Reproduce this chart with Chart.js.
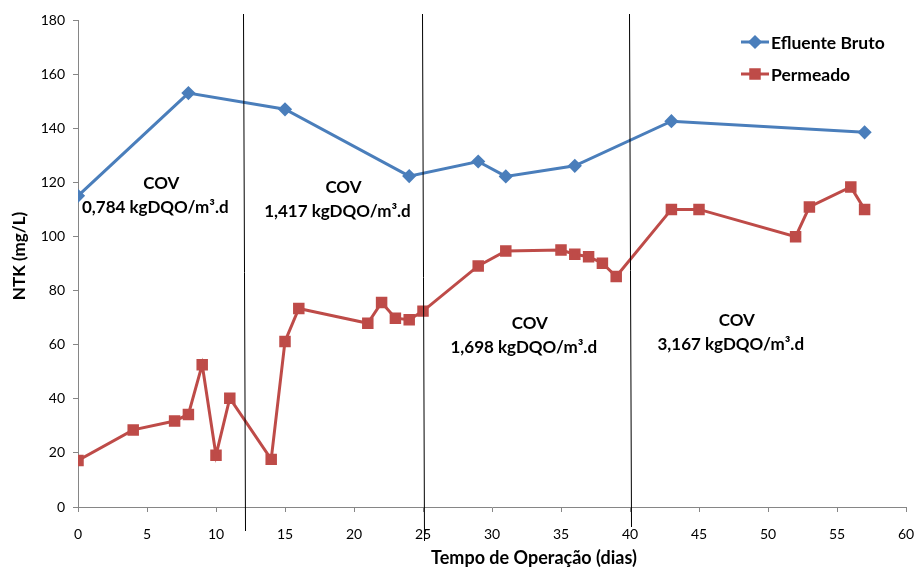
<!DOCTYPE html>
<html>
<head>
<meta charset="utf-8">
<script src="https://cdn.jsdelivr.net/npm/chart.js@4"></script>
<style>
  html, body { margin: 0; padding: 0; background: #fff; }
  #wrap { width: 915px; height: 569px; }
</style>
</head>
<body>
<div id="wrap"><canvas id="grafico"></canvas></div>
<script>
// Tempo de operação (dias) e NTK (mg/L)
const diasBruto = [0, 8, 15, 24, 29, 31, 36, 43, 57];
const ntkBruto = [115, 153, 147, 122.3, 127.7, 122.2, 126.1, 142.6, 138.5];

const diasPermeado = [0, 4, 7, 8, 9, 10, 11, 14, 15, 16, 21, 22, 23, 24, 25, 29, 31, 35, 36, 37, 38, 39, 43, 45, 52, 53, 56, 57];
const ntkPermeado = [17.2, 28.5, 31.8, 34.2, 52.6, 19.1, 40.2, 17.6, 61.2, 73.4, 67.9, 75.6, 69.8, 69.2, 72.4, 89.1, 94.6, 95, 93.4, 92.5, 90.1, 85.2, 110, 110, 99.9, 110.9, 118.3, 110];

// mudanças de carga orgânica volumétrica
const divisorias = [12, 25, 40];
const rotulosCOV = [
  { x: 5.6, y: 115, linhas: ['COV', '0,784 kgDQO/m³.d'] },
  { x: 18.8, y: 113.5, linhas: ['COV', '1,417 kgDQO/m³.d'] },
  { x: 32.3, y: 63.5, linhas: ['COV', '1,698 kgDQO/m³.d'] },
  { x: 47.3, y: 64.5, linhas: ['COV', '3,167 kgDQO/m³.d'] }
];

const fonte = 'Lato, "Open Sans", sans-serif';
const azul = '#4A7EBB';
const vermelho = '#BE4B48';

const pares = (xs, ys) => xs.map((x, i) => ({ x: x, y: ys[i] }));

// linhas verticais, textos de COV, títulos dos eixos e legenda
const extras = {
  id: 'extras',
  afterDatasetsDraw(chart) {
    const { ctx, chartArea, scales } = chart;
    ctx.save();
    ctx.strokeStyle = '#000';
    ctx.lineWidth = 1;
    divisorias.forEach((d, i) => {
      const px = Math.round(scales.x.getPixelForValue(d)) + 0.5;
      ctx.beginPath();
      ctx.moveTo(px - 1, chartArea.top - 6);
      ctx.lineTo(px + 1, chartArea.bottom + [24, 34, 20][i]);
      ctx.stroke();
    });
    ctx.fillStyle = '#000';
    ctx.font = 'bold 17px ' + fonte;
    ctx.textAlign = 'center';
    ctx.textBaseline = 'middle';
    rotulosCOV.forEach(r => {
      const px = scales.x.getPixelForValue(r.x);
      const py = scales.y.getPixelForValue(r.y);
      ctx.fillText(r.linhas[0], px + 6, py - 12);
      ctx.fillText(r.linhas[1], px, py + 12);
    });

    // títulos dos eixos
    ctx.font = 'bold 18px ' + fonte;
    ctx.fillText('Tempo de Operação (dias)', 534, 558);
    ctx.save();
    ctx.translate(20, 256);
    ctx.rotate(-Math.PI / 2);
    ctx.font = 'bold 17px ' + fonte;
    ctx.fillText('NTK (mg/L)', 0, 0);
    ctx.restore();

    // legenda
    const itens = [
      { texto: 'Efluente Bruto', cor: azul, forma: 'rectRot', r: 5 },
      { texto: 'Permeado', cor: vermelho, forma: 'rect', r: 6 }
    ];
    ctx.textAlign = 'left';
    ctx.font = 'bold 17.5px ' + fonte;
    itens.forEach((it, i) => {
      const y = 42 + i * 32;
      ctx.strokeStyle = it.cor;
      ctx.lineWidth = 3;
      ctx.beginPath();
      ctx.moveTo(741, y);
      ctx.lineTo(769, y);
      ctx.stroke();
      Chart.helpers.drawPoint(ctx, { pointStyle: it.forma, radius: it.r, borderWidth: 1 }, 755, y);
      ctx.fillStyle = it.cor;
      ctx.fill();
      ctx.fillStyle = '#000';
      ctx.fillText(it.texto, 771, y + 1);
    });
    ctx.restore();
  }
};

new Chart(document.getElementById('grafico').getContext('2d'), {
  type: 'line',
  data: {
    datasets: [
      {
        label: 'Efluente Bruto',
        data: pares(diasBruto, ntkBruto),
        borderColor: azul,
        backgroundColor: azul,
        borderWidth: 3,
        pointStyle: 'rectRot',
        pointRadius: 5,
        pointHoverRadius: 5
      },
      {
        label: 'Permeado',
        data: pares(diasPermeado, ntkPermeado),
        borderColor: vermelho,
        backgroundColor: vermelho,
        borderWidth: 3,
        pointStyle: 'rect',
        pointRadius: 6,
        pointHoverRadius: 6
      }
    ]
  },
  options: {
    responsive: true,
    maintainAspectRatio: false,
    animation: false,
    layout: { padding: { top: 20, right: 9, left: 0, bottom: 0 } },
    plugins: {
      legend: { display: false },
      tooltip: { enabled: false }
    },
    scales: {
      x: {
        type: 'linear',
        min: 0,
        max: 60,
        ticks: { stepSize: 5, color: '#000', font: { family: fonte, size: 14 }, padding: 14, maxRotation: 0, minRotation: 0 },
        grid: { drawOnChartArea: false, drawTicks: true, tickLength: 5, color: '#868686' },
        border: { color: '#868686' },
        afterFit(axis) {
          axis.height = 62;
          axis.paddingLeft = 0;
          axis.paddingRight = 0;
        }
      },
      y: {
        min: 0,
        max: 180,
        ticks: { stepSize: 20, color: '#000', font: { family: fonte, size: 14 }, padding: 8 },
        grid: { drawOnChartArea: false, drawTicks: true, tickLength: 5, color: '#868686' },
        border: { color: '#868686' },
        afterFit(axis) {
          axis.width = 78;
          axis.paddingTop = 0;
          axis.paddingBottom = 0;
        }
      }
    }
  },
  plugins: [extras]
});
</script>
</body>
</html>
